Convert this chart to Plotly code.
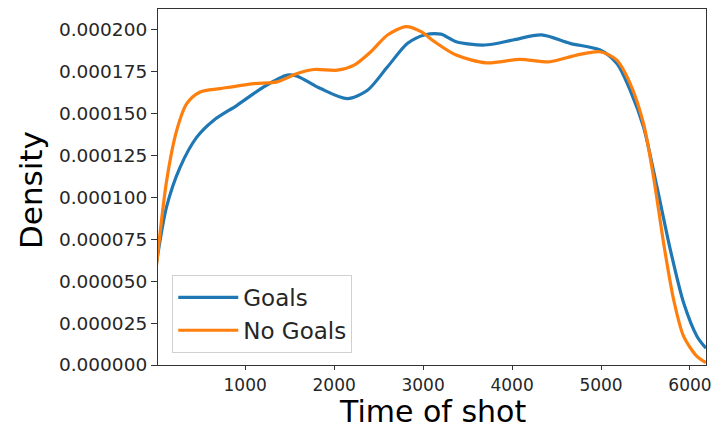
import plotly.graph_objects as go

goals_x = [0, 117, 268, 456, 644, 908, 1209, 1472, 1585, 1848, 2149, 2375, 2600, 2826,
           3015, 3200, 3372, 3692, 4011, 4331, 4651, 4990, 5178, 5328, 5478, 5630,
           5780, 5930, 6081, 6180]
goals_y = [60e-6, 94.5e-6, 118e-6, 136e-6, 146e-6, 155e-6, 166e-6, 173e-6, 172.4e-6,
           165e-6, 159e-6, 164e-6, 178e-6, 192e-6, 197e-6, 197.5e-6, 193e-6, 191e-6,
           194e-6, 197e-6, 192e-6, 188e-6, 180e-6, 164e-6, 142e-6, 106e-6, 68.6e-6,
           36.8e-6, 16.9e-6, 10e-6]

nogoals_x = [0, 117, 230, 343, 494, 720, 1096, 1359, 1585, 1773, 2036, 2225, 2413,
             2600, 2808, 2977, 3128, 3372, 3711, 4087, 4425, 4727, 4990, 5178, 5328,
             5478, 5591, 5704, 5817, 5930, 6081, 6180]
nogoals_y = [58e-6, 110e-6, 140e-6, 156e-6, 163e-6, 165e-6, 168e-6, 169e-6, 174e-6,
             176.4e-6, 176e-6, 179e-6, 187e-6, 197e-6, 202e-6, 199e-6, 193e-6, 185e-6,
             180.4e-6, 182.4e-6, 181e-6, 185e-6, 187e-6, 182e-6, 168e-6, 144e-6,
             112e-6, 72.6e-6, 38.8e-6, 16.9e-6, 5e-6, 1.5e-6]

x_ticks = [1000, 2000, 3000, 4000, 5000, 6000]
y_ticks = [0, 25e-6, 50e-6, 75e-6, 100e-6, 125e-6, 150e-6, 175e-6, 200e-6]

W, H = 711, 430
ML, MR, MT, MB = 158, 5, 9, 65
PW, PH = W - ML - MR, H - MT - MB

fig = go.Figure()
fig.add_trace(go.Scatter(x=goals_x, y=goals_y, mode="lines", name="Goals",
                         line=dict(color="#1f77b4", width=3.2, shape="spline", smoothing=0.8)))
fig.add_trace(go.Scatter(x=nogoals_x, y=nogoals_y, mode="lines", name="No Goals",
                         line=dict(color="#ff7f0e", width=3.2, shape="spline", smoothing=0.8)))

font_family = "DejaVu Sans"
fig.update_layout(
    width=W, height=H,
    margin=dict(l=ML, r=MR, t=MT, b=MB),
    paper_bgcolor="white", plot_bgcolor="white",
    font=dict(family=font_family, color="#262626"),
    showlegend=True,
    legend=dict(x=0.026, y=0.034, xanchor="left", yanchor="bottom",
                bgcolor="rgba(255,255,255,0.8)", bordercolor="#d0d0d0", borderwidth=1,
                font=dict(size=23, family=font_family, color="#262626"),
                itemwidth=60),
    annotations=[
        dict(text="Time of shot", xref="paper", yref="paper",
             x=(432 - ML) / PW, y=-(H - MT - PH) / PH, xanchor="center", yanchor="bottom",
             showarrow=False, yshift=0, borderpad=0,
             font=dict(size=30, family=font_family, color="black")),
        dict(text="Density", xref="paper", yref="paper", textangle=-90,
             x=(31 - ML) / PW, y=(H - MB - 190) / PH, xanchor="center", yanchor="middle",
             showarrow=False,
             font=dict(size=31, family=font_family, color="black")),
    ],
)
fig.update_xaxes(
    range=[20, 6180], tickvals=x_ticks, ticktext=[str(v) for v in x_ticks],
    showgrid=False, zeroline=False, showline=True, mirror=True,
    linecolor="#333333", linewidth=1.2, ticks="outside", ticklen=4, tickwidth=1.2,
    tickcolor="#333333", tickfont=dict(size=17, family=font_family, color="#262626"),
    ticklabeloverflow="allow", automargin=False,
)
fig.update_yaxes(
    range=[0, 0.0002125], tickvals=y_ticks, tickformat=".6f",
    showgrid=False, zeroline=False, showline=True, mirror=True,
    linecolor="#333333", linewidth=1.2, ticks="outside", ticklen=6, tickwidth=1.2,
    tickcolor="#333333", tickfont=dict(size=18.5, family=font_family, color="#262626"),
    automargin=False,
)

fig.write_html("out.html")
